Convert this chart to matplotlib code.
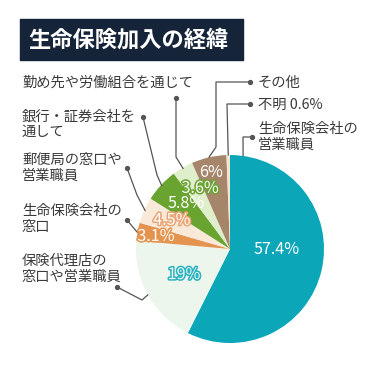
import numpy as np
import matplotlib.pyplot as plt
import matplotlib.patheffects as pe
from matplotlib.patches import Rectangle

plt.rcParams['font.family'] = ['Noto Sans CJK JP', 'DejaVu Sans']

# データ（時計回り、12時の位置から）
names = ['生命保険会社の\n営業職員', '保険代理店の\n窓口や営業職員', '生命保険会社の\n窓口',
         '郵便局の窓口や\n営業職員', '銀行・証券会社を\n通して', '勤め先や労働組合を通じて',
         'その他', '不明 0.6%']
values = [57.4, 19, 3.1, 4.5, 5.8, 3.6, 6, 0.6]
pct_text = ['57.4%', '19%', '3.1%', '4.5%', '5.8%', '3.6%', '6%', '']
colors = ['#0ba6b8', '#edf6ec', '#e5944f', '#f8e9d9', '#69a431', '#dfeecb', '#a6866a', '#f3e4d0']

txt_color = '#3a3a3a'
line_color = '#555555'

fig = plt.figure(figsize=(3.75, 3.75), dpi=100)
ax = fig.add_axes([0, 0, 1, 1])

H = 375
cx, cy, R = 230, H - 249, 94

wedges, _ = ax.pie(values, colors=colors, startangle=90, counterclock=False,
                   center=(cx, cy), radius=R, frame=True,
                   wedgeprops=dict(linewidth=0))
ax.set_xlim(0, 375)
ax.set_ylim(0, 375)
ax.set_aspect('equal')
ax.axis('off')

# パーセント表示
pct_r = [0.5, 0.56, 0.8, 0.69, 0.67, 0.72, 0.84, 0]
pct_shift = [13, 0, 1, -2, -3, -4, 1, 0]
pct_fill = ['white', '#eef7f1', 'white', 'white', 'white', 'white', 'white', 'white']
pct_stroke = [None, '#2bb3c3', '#e5944f', '#eba474', None, '#69a431', None, None]
for w, t, r, s, fc, sc in zip(wedges, pct_text, pct_r, pct_shift, pct_fill, pct_stroke):
    if not t:
        continue
    a = np.deg2rad((w.theta1 + w.theta2) / 2 + s)
    x = cx + r * R * np.cos(a)
    y = cy + r * R * np.sin(a)
    effects = [pe.withStroke(linewidth=2.2, foreground=sc)] if sc else None
    ax.text(x, y, t, ha='center', va='center', fontsize=11.6, color=fc,
            path_effects=effects)

# タイトル
ax.add_patch(Rectangle((20, H - 60), 223, 41, color='#16243a', zorder=3))
ax.text(28, H - 40, '生命保険加入の経緯', color='white', fontsize=16,
        fontweight='bold', va='center', ha='left', zorder=4)

# 引き出し線とラベル
label_xy = [(258, 137), (22, 269), (22, 219), (22, 168), (22, 124), (22, 83),
            (258, 83), (258, 105)]
dot_xy = [(252, 137), (117, 287), (127, 220), (127, 168), (143, 117), (176, 98),
          (250, 82), (250, 104)]
bend_xy = [[(243, 137)], [(142, 300)], [(137, 232)], [(137, 195)], [(157, 175)],
           [(176, 157)], [(216, 82), (216, 147)], [(227, 104)]]
edge_shift = [-8, 0, 0, 0, 0, 0, 0, 0]
edge_r = [1.0, 1.0, 0.99, 0.99, 0.99, 0.99, 1.0, 1.0]

for i, w in enumerate(wedges):
    if edge_shift[i]:
        ang = np.deg2rad(w.theta2 + edge_shift[i])
    else:
        ang = np.deg2rad((w.theta1 + w.theta2) / 2)
    ex = cx + edge_r[i] * R * np.cos(ang)
    ey = cy + edge_r[i] * R * np.sin(ang)
    pts = [dot_xy[i]] + bend_xy[i]
    xs = [p[0] for p in pts] + [ex]
    ys = [H - p[1] for p in pts] + [ey]
    ax.plot(xs, ys, color=line_color, lw=0.9, solid_capstyle='round')
    ax.plot(dot_xy[i][0], H - dot_xy[i][1], 'o', color=line_color, ms=2.8)

    lx, ly = label_xy[i]
    ax.text(lx, H - ly, names[i], ha='left', va='center', fontsize=10.3,
            color=txt_color, linespacing=1.12)

fig.savefig('out.png', dpi=100)
